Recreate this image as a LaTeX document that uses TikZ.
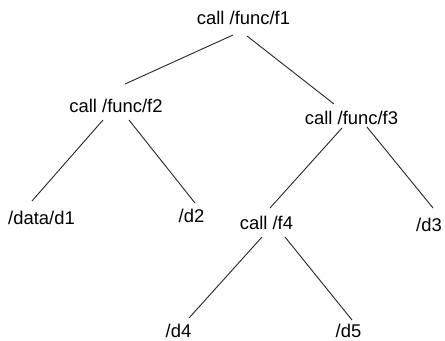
\documentclass[tikz,border=0pt]{standalone}
\usepackage{fontspec}
\setmainfont{Liberation Sans}
\begin{document}
\begin{tikzpicture}[x=1bp,y=-1bp,
  lbl/.style={anchor=base,inner sep=0pt,font=\fontsize{18.4bp}{22bp}\selectfont},
  edge/.style={draw=black!85,line width=0.9bp}]
\useasboundingbox[fill=white] (0,0) rectangle (445,340);
\node[lbl] (f1) at (243.5,24) {call /func/f1};
\node[lbl] (f2) at (116,112) {call /func/f2};
\node[lbl] (f3) at (351.5,124) {call /func/f3};
\node[lbl] (d1) at (41.5,224) {/data/d1};
\node[lbl] (d2) at (191.5,222) {/d2};
\node[lbl] (f4) at (266.5,229) {call /f4};
\node[lbl] (d3) at (429,231) {/d3};
\node[lbl] (d4) at (178.5,337) {/d4};
\node[lbl] (d5) at (348.5,337) {/d5};
\draw[edge] ([shift={(-10.5,11)}]f1.base) -- ([shift={(9,-28)}]f2.base);
\draw[edge] ([shift={(3.5,12)}]f1.base) -- ([shift={(-17.5,-20)}]f3.base);
\draw[edge] ([shift={(-13,8)}]f2.base) -- ([shift={(-9.5,-23)}]d1.base);
\draw[edge] ([shift={(13,8)}]f2.base) -- ([shift={(3.5,-19)}]d2.base);
\draw[edge] ([shift={(-9.5,4)}]f3.base) -- ([shift={(3.5,-21)}]f4.base);
\draw[edge] ([shift={(15.5,3)}]f3.base) -- ([shift={(4,-23)}]d3.base);
\draw[edge] ([shift={(-4.5,8)}]f4.base) -- ([shift={(10.5,-19)}]d4.base);
\draw[edge] ([shift={(18.5,8)}]f4.base) -- ([shift={(3.5,-17)}]d5.base);
\end{tikzpicture}
\end{document}
